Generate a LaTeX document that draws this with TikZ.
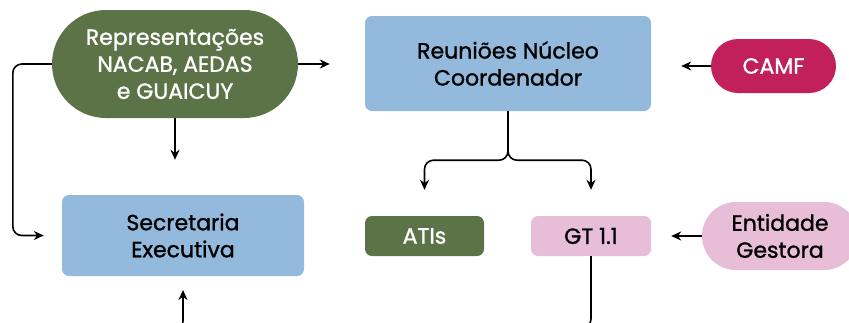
\documentclass[tikz,border=0pt]{standalone}
\usepackage{fontspec}
\setmainfont{Poppins}[UprightFeatures={FakeBold=1.2}]
\usetikzlibrary{shapes.misc}
\usetikzlibrary{arrows.meta}

\definecolor{leafgreen}{HTML}{5B7346}
\definecolor{skyblue}{HTML}{93B9DC}
\definecolor{crimson}{HTML}{C1205A}
\definecolor{lilac}{HTML}{E8BDD8}

\begin{document}
\begin{tikzpicture}[
    x=1pt, y=-1pt,
    font=\fontsize{22}{27}\selectfont,
    box/.style={rectangle, rounded corners=7pt, fill=#1, inner sep=0pt, align=center},
    pill/.style={rounded rectangle, fill=#1, inner sep=0pt, align=center},
    link/.append style={-{Stealth[length=10pt,width=9pt]}, line width=1.6pt, rounded corners=9pt}
]
\useasboundingbox (0,0) rectangle (849,322);
\clip (0,0) rectangle (849,322);
\node [pill=leafgreen, text=white, minimum width=246pt, minimum height=108pt] at (175, 64) (rep) {Representações\\NACAB, AEDAS\\e GUAICUY};
\node [box=skyblue, minimum width=286pt, minimum height=95pt] at (508, 63.5) (reun) {Reuniões Núcleo\\Coordenador};
\node [pill=crimson, text=white, minimum width=125pt, minimum height=54pt] at (773.5, 66) (camf) {CAMF};
\node [box=skyblue, minimum width=242pt, minimum height=81pt] at (183, 235.5) (sec) {Secretaria\\Executiva};
\node [box=leafgreen, text=white, minimum width=119pt, minimum height=40pt] at (424.5, 236) (atis) {ATIs};
\node [box=lilac, minimum width=120pt, minimum height=40pt] at (591, 236) (gt) {GT 1.1};
\node [pill=lilac, minimum width=156pt, minimum height=68pt, text width=130pt] at (780, 236) (ent) {Entidade\\Gestora};
\coordinate (gtout) at (540, 328);
\coordinate (secfrom) at (160, 330);
\coordinate (secin) at (183, 290);
\draw [link, shorten >=35pt] (rep.east) -- (reun.west |- rep.east);
\draw [link, shorten >=35pt] (rep.south) -- (rep.south |- sec.north);
\draw [link, shorten >=18pt] (rep.west) -- ++(-39,0) |- (sec.west);
\draw [link, shorten >=30pt] (camf.west) -- (camf.west -| reun.east);
\draw [link, shorten >=26pt] (reun.south) -- ++(0,49) -| (atis.north);
\draw [link, shorten >=26pt] (reun.south) -- ++(0,49) -| (gt.north);
\draw [link, shorten >=20pt] (ent.west) -- (ent.west -| gt.east);
\draw [line width=1.6pt, rounded corners=9pt] (gt.south) |- (gtout);
\draw [link] (secfrom) -| (secin);
\end{tikzpicture}
\end{document}
